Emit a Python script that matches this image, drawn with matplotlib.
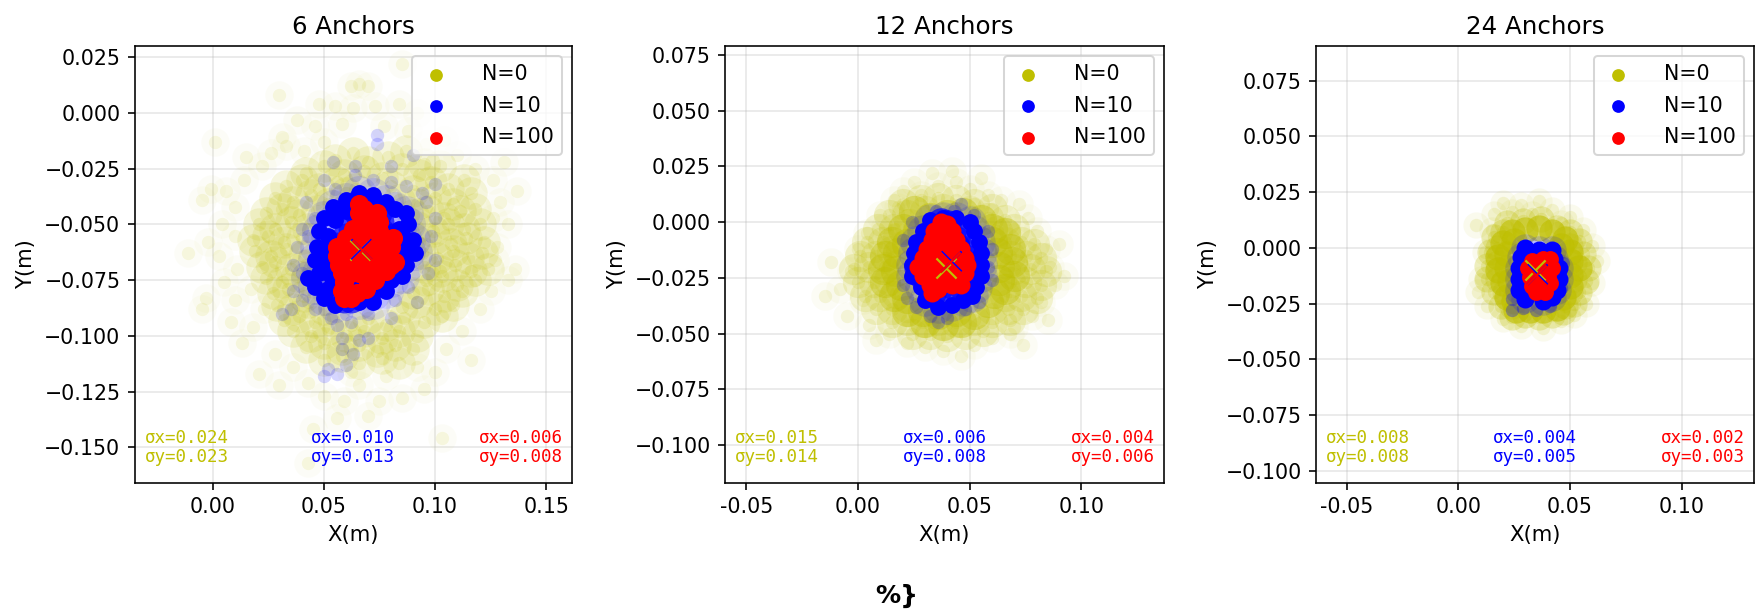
import numpy as np
import matplotlib
matplotlib.use('Agg')
import matplotlib.pyplot as plt

W, H = 1756, 613
DPI = 145

# point positions, in mm
a6_n0_far = [(85,22),(66,13),(62,12),(70,12),(30,8),(48,4),(55,3),(63,2),(73,3),(84,4),(92,0),(38,-3),(46,-6),(58,-5),(77,-6),(88,-8),
    (1,-13),(31,-11),(33,-15),(41,-17),(50,-13),(96,-14),(104,-12),(15,-20),(22,-24),(26,-18),(110,-19),(118,-25),(131,-22),(137,-35),(126,-30),
    (-5,-39),(-1,-34),(6,-35),(10,-42),(14,-30),(129,-40),(133,-50),(126,-47),(4,-50),(10,-55),(-2,-58),(-11,-63),(3,-64),(11,-70),(128,-60),(136,-70),(133,-75),(127,-66),
    (-3,-83),(-5,-88),(5,-76),(10,-84),(17,-79),(125,-80),(120,-88),(13,-103),(8,-94),(18,-96),(23,-88),(116,-111),(112,-98),(105,-106),
    (21,-117),(30,-122),(28,-108),(36,-114),(43,-121),(95,-124),(85,-128),(92,-114),(100,-116),(59,-129),(75,-129),(50,-127),(66,-122),(56,-137),(70,-136),(45,-142),(43,-157),(103,-146),(62,-116),(78,-118)]
a6_n0_mid = [(55,-21),(63,-18),(70,-22),(79,-20),(87,-17),(95,-23),(42,-27),(50,-24),(59,-28),(68,-26),(76,-29),(85,-25),(93,-28),(102,-24),
    (33,-33),(40,-30),(48,-34),(56,-31),(64,-34),(80,-33),(90,-35),(98,-31),(106,-34),(113,-30),(28,-38),(36,-40),(44,-37),(52,-41),(60,-36),(84,-39),(92,-41),(100,-38),(108,-41),(116,-36),
    (24,-45),(31,-43),(39,-46),(47,-44),(90,-46),(97,-44),(104,-47),(111,-44),(118,-43),(21,-50),(28,-52),(35,-49),(43,-52),(92,-51),(99,-53),(106,-50),(113,-52),(120,-50),
    (18,-57),(25,-55),(32,-58),(40,-56),(93,-58),(100,-56),(107,-59),(114,-56),(122,-58),(19,-62),(26,-64),(33,-61),(41,-64),(94,-63),(101,-65),(108,-62),(115,-65),(121,-63),
    (22,-69),(28,-67),(35,-70),(42,-68),(95,-69),(102,-71),(109,-68),(116,-71),(124,-70),(24,-74),(31,-76),(38,-73),(45,-76),(96,-75),(103,-73),(110,-77),(118,-75),
    (27,-81),(34,-79),(41,-82),(90,-81),(97,-79),(104,-82),(112,-80),(29,-86),(36,-88),(43,-85),(50,-88),(85,-87),(92,-85),(100,-88),(108,-86),
    (32,-93),(39,-91),(46,-94),(54,-92),(62,-95),(70,-92),(78,-95),(86,-92),(95,-94),(103,-91),(36,-98),(44,-100),(52,-97),(60,-100),(68,-98),(76,-101),(84,-98),(92,-100),
    (42,-105),(50,-103),(58,-106),(66,-104),(74,-107),(82,-104),(90,-106),(50,-111),(58,-109),(66,-112),(76,-110),(84,-112)]
a6_n10_far = [(74,-10),(74,-14),(90,-19),(54,-22),(64,-24),(80,-24),(64,-28),(72,-30),(80,-31),(87,-33),(50,-30),(55,-34),(100,-32),(94,-36),(96,-40),(42,-40),(46,-47),(100,-47),
    (40,-52),(98,-55),(38,-60),(43,-55),(36,-68),(40,-72),(100,-66),(97,-72),(36,-80),(35,-88),(40,-84),(31,-90),(46,-88),(53,-92),(60,-90),(70,-90),(82,-84),(92,-85),(88,-78),(80,-92),
    (56,-95),(62,-94),(58,-101),(66,-102),(70,-101),(63,-108),(60,-113),(52,-115),(56,-117),(50,-118),(58,-106)]
a6_n10_core = [(60,-39),(66,-36),(72,-37),(78,-40),(54,-42),(60,-44),(82,-43),(87,-45),(50,-47),(55,-48),(88,-50),(84,-52),(48,-53),(52,-55),(86,-56),(90,-57),(47,-60),(51,-62),(88,-62),(91,-63),
    (46,-66),(50,-68),(87,-68),(48,-72),(43,-74),(53,-73),(85,-73),(80,-75),(46,-78),(52,-79),(78,-80),(72,-81),(50,-83),(55,-86),(66,-85),(72,-85),(63,-77),(67,-77)]
a6_n100 = [(66,-41),(68,-43),(66,-45),(71,-46),(74,-45),(67,-49),(72,-49),(75,-49),(63,-52),(67,-52),(71,-53),(75,-53),(60,-56),(64,-56),(68,-56),(72,-56),(76,-56),(81,-56),(78,-59),
    (56,-60),(60,-60),(64,-60),(68,-60),(72,-60),(76,-60),(80,-60),(56,-64),(60,-64),(64,-64),(68,-64),(72,-64),(76,-64),(79,-65),(57,-68),(61,-68),(65,-68),(69,-68),(73,-68),(77,-68),(80,-68),(82,-67),
    (58,-72),(62,-72),(66,-72),(70,-72),(74,-72),(78,-71),(59,-76),(70,-76),(73,-75),(58,-80),(61,-81),(65,-81),(69,-79),(59,-83),(62,-83)]
a6_mean_n0 = (66.4, -61.5)
a6_mean_n10 = (66.7, -61.2)
a6_mean_n100 = (67.0, -61.5)

a12_n0_far = [(-15,-33),(-12,-18),(-8,-30),(-5,-42),(-3,-22),(0,-12),(2,-35),(4,-5),(5,-46),(8,-53),(10,3),(12,-2),(14,-50),(16,10),(18,7),(20,14),(22,-54),(25,18),(28,12),(30,-56),(33,22),(36,16),
    (38,-58),(42,23),(44,18),(46,-60),(50,15),(52,-55),(55,20),(58,12),(60,-52),(64,10),(68,-50),(72,8),(70,-47),(76,2),(80,-4),(84,-12),(86,-20),(88,-28),(82,-36),(78,-42),(90,-10),(85,-44),(92,-24),(74,-55)]
a12_n0_mid = [(20,8),(28,10),(36,11),(44,10),(52,8),(60,6),(14,3),(22,3),(30,5),(38,6),(50,5),(58,2),(66,1),(9,-3),(16,-3),(23,-1),(62,-4),(70,-3),
    (4,-9),(11,-9),(18,-7),(66,-9),(73,-9),(79,-10),(1,-15),(8,-15),(15,-13),(68,-15),(75,-15),(82,-16),(-2,-21),(5,-20),(12,-20),(18,-19),(70,-21),(77,-21),(84,-22),(0,-27),(7,-27),(14,-26),(68,-27),(75,-27),(82,-28),
    (3,-33),(10,-33),(17,-32),(66,-33),(73,-33),(80,-34),(8,-39),(15,-39),(22,-38),(60,-39),(67,-39),(74,-39),(15,-45),(22,-44),(29,-45),(36,-44),(44,-45),(52,-44),(60,-45),(68,-44),(24,-50),(32,-50),(40,-51),(48,-50),(56,-49)]
a12_n0_core = [(25,5),(32,2),(40,3),(47,4),(55,1),(20,-3),(27,-4),(60,-3),(15,-9),(22,-10),(60,-9),(66,-5),(12,-15),(18,-14),(62,-14),(68,-12),(11,-21),(17,-22),(63,-20),(69,-18),(12,-27),(19,-28),(63,-26),(70,-24),
    (16,-33),(22,-34),(61,-32),(66,-30),(22,-40),(29,-40),(36,-41),(44,-40),(52,-41),(58,-36),(30,-45),(38,-46),(46,-45)]
a12_n10_far = [(46,8),(43,5),(35,5),(52,3),(24,0),(58,-4),(20,-8),(60,-12),(58,-20),(60,-26),(20,-28),(22,-34),(26,-38),(54,-36),(48,-39),(32,-42),(40,-43),(36,-45)]
a12_n10_core = [(32,1),(38,2),(44,2),(50,0),(29,-4),(52,-4),(26,-9),(54,-9),(25,-14),(55,-14),(24,-19),(55,-19),(24,-24),(55,-24),(28,-29),(53,-29),(30,-35),(36,-38),(42,-37),(47,-35),(51,-33),(48,-28),(46,-10)]
a12_n100 = [(37,0),(40,-1),(34,-4),(38,-4),(42,-4),(33,-8),(37,-8),(41,-8),(44,-8),(31,-12),(35,-12),(39,-12),(43,-12),(46,-12),(29,-16),(33,-16),(37,-16),(41,-16),(45,-16),(48,-16),
    (27,-20),(31,-20),(35,-20),(39,-20),(43,-20),(47,-20),(49,-19),(29,-24),(33,-24),(37,-24),(41,-24),(45,-24),(48,-23),(32,-28),(36,-27),(33,-32),(36,-30),(42,-28),(46,-28)]
a12_mean_n0 = (39.5, -20.5)
a12_mean_n10 = (41.6, -17.5)
a12_mean_n100 = (41.2, -18.0)

a24_n0_far = [(8,10),(16,15),(12,-2),(10,-14),(13,-26),(9,-20),(20,20),(28,19),(36,21),(42,17),(50,14),(56,8),(60,1),(62,-6),(60,-16),(57,-25),(52,-30),(46,-33),(38,-36),(28,-35),(20,-32),(30,-30),(15,8),(24,16),(33,15),(46,11)]
a24_n0_mid = [(22,11),(29,12),(37,13),(44,9),(16,5),(20,7),(50,7),(54,3),(14,-2),(18,0),(50,1),(56,-3),(13,-8),(18,-7),(52,-7),(58,-9),(13,-14),(18,-14),(52,-14),(57,-15),(16,-20),(21,-20),(50,-20),(54,-20),
    (19,-26),(24,-26),(48,-26),(52,-25),(24,-31),(30,-30),(36,-31),(42,-30),(47,-29)]
a24_n0_core = [(24,7),(30,8),(36,9),(42,7),(48,4),(20,2),(25,3),(46,1),(50,-2),(18,-4),(22,-3),(50,-6),(54,-9),(18,-10),(22,-9),(50,-12),(20,-16),(23,-15),(50,-17),(22,-22),(25,-24),(47,-22),(26,-28),(32,-28),(38,-28),(44,-27)]
a24_n10_far = [(24,-28),(29,-27),(41,-26),(35,-28),(24,-23),(46,-18),(47,-7)]
a24_n10_core = [(30,0),(36,-1),(42,-1),(28,-4),(43,-5),(27,-9),(45,-9),(27,-14),(45,-14),(27,-19),(44,-19),(30,-23),(38,-24),(42,-22),(35,-8),(36,-18)]
a24_n100 = [(33,-6),(38,-5),(41,-5),(31,-9),(35,-9),(39,-9),(42,-9),(32,-13),(36,-13),(40,-13),(33,-17),(37,-17),(41,-16),(35,-20),(39,-20)]
a24_mean_n0 = (34.3, -10.0)
a24_mean_n10 = (35.4, -11.9)
a24_mean_n100 = (35.0, -12.3)

titles = ['6 Anchors', '12 Anchors', '24 Anchors']
sigma_x = [['0.024', '0.010', '0.006'], ['0.015', '0.006', '0.004'], ['0.008', '0.004', '0.002']]
sigma_y = [['0.023', '0.013', '0.008'], ['0.014', '0.008', '0.006'], ['0.008', '0.005', '0.003']]
legend_labels = ['N=0', 'N=10', 'N=100']
colors = ['y', 'b', 'r']

xticks = [[0, 0.05, 0.10, 0.15], [-0.05, 0, 0.05, 0.10], [-0.05, 0, 0.05, 0.10]]
yticks = [[0.025, 0, -0.025, -0.05, -0.075, -0.1, -0.125, -0.15],
          [0.075, 0.05, 0.025, 0, -0.025, -0.05, -0.075, -0.1],
          [0.075, 0.05, 0.025, 0, -0.025, -0.05, -0.075, -0.1]]
xlims = [(-0.0352, 0.1616), (-0.0596, 0.137), (-0.0637, 0.1324)]
ylims = [(-0.166, 0.030), (-0.117, 0.079), (-0.1055, 0.0905)]
boxes = [(134.5, 572), (725, 1164), (1316, 1754)]


def xy(pts):
    a = np.array(pts) / 1000
    return a[:, 0], a[:, 1]


# (points, colour, marker size, alpha) - the big faint passes stand in for the overlap of the dense cloud
layers = [
    [(a6_n0_far, 'y', 44, 0.1), (a6_n0_far, 'y', 200, 0.03), (a6_n0_mid, 'y', 44, 0.14), (a6_n0_mid, 'y', 260, 0.13),
     (a6_n10_far, 'b', 44, 0.16), (a6_n10_core, 'b', 300, 0.1), (a6_n10_core, 'b', 70, 1), (a6_n100, 'b', 220, 0.7), (a6_n100, 'r', 90, 1)],
    [(a12_n0_far, 'y', 44, 0.12), (a12_n0_far, 'y', 200, 0.04), (a12_n0_mid, 'y', 44, 0.15), (a12_n0_mid, 'y', 240, 0.16), (a12_n0_core, 'y', 240, 0.38),
     (a12_n10_far, 'b', 44, 0.22), (a12_n10_core, 'b', 260, 0.12), (a12_n10_core, 'b', 70, 1), (a12_n100, 'b', 200, 0.7), (a12_n100, 'r', 80, 1)],
    [(a24_n0_far, 'y', 44, 0.14), (a24_n0_far, 'y', 170, 0.07), (a24_n0_mid, 'y', 44, 0.2), (a24_n0_mid, 'y', 170, 0.25), (a24_n0_core, 'y', 170, 0.6),
     (a24_n10_far, 'b', 44, 0.3), (a24_n10_core, 'b', 200, 0.14), (a24_n10_core, 'b', 80, 1), (a24_n100, 'r', 70, 1)],
]
means = [
    [a6_mean_n0, a6_mean_n10, a6_mean_n100],
    [a12_mean_n0, a12_mean_n10, a12_mean_n100],
    [a24_mean_n0, a24_mean_n10, a24_mean_n100],
]

fig = plt.figure(figsize=(W / DPI, H / DPI), dpi=DPI)

for i in range(3):
    left, right = boxes[i]
    ax = fig.add_axes([left / W, 1 - 483 / H, (right - left) / W, (483 - 46) / H])
    ax.set_axisbelow(True)
    ax.grid(True, color='#b0b0b0', linewidth=0.8, alpha=0.3)

    for pts, c, size, alpha in layers[i]:
        px, py = xy(pts)
        ax.scatter(px, py, s=size, c=c, alpha=alpha, linewidths=0)

    for c, m in zip(colors, means[i]):
        ax.scatter(m[0] / 1000, m[1] / 1000, s=100, c=c, marker='x', linewidths=1.1)

    handles = [ax.scatter([], [], s=40, c=c, linewidths=0) for c in colors]
    ax.legend(handles, legend_labels, loc='upper right', fontsize=10.2, handlelength=1.6,
              handletextpad=1.4, labelspacing=0.55)

    ax.set_xlim(xlims[i])
    ax.set_ylim(ylims[i])
    ax.set_xticks(xticks[i])
    ax.set_xticklabels(['%.2f' % v for v in xticks[i]], fontsize=10.2)
    ax.set_yticks(yticks[i])
    ax.set_yticklabels([('%.3f' % v).replace('-', '\u2212') for v in yticks[i]], fontsize=10.2)
    ax.set_xlabel('X(m)', fontsize=10.5)
    ax.set_ylabel('Y(m)', fontsize=10.5, labelpad=4)
    ax.set_title(titles[i], fontsize=12.2)

    for j, (tx, ha) in enumerate([(0.023, 'left'), (0.5, 'center'), (0.979, 'right')]):
        ax.text(tx, 0.04, '\u03c3x=%s\n\u03c3y=%s' % (sigma_x[i][j], sigma_y[i][j]), transform=ax.transAxes,
                color=colors[j], family='DejaVu Sans Mono', fontsize=8.7, ha=ha, va='bottom', linespacing=1.05)

fig.text(897 / W, 1 - 596 / H, '%}', fontsize=12.5, fontweight='bold', ha='center', va='center')

fig.savefig('out.png', dpi=DPI)
